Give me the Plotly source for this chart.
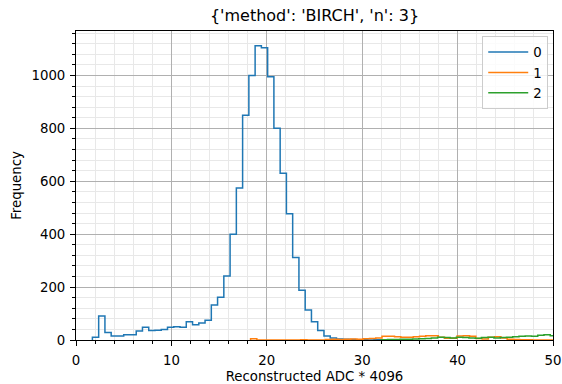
import plotly.graph_objects as go

# ---- data ----
series_names = ["0", "1", "2"]
series_colors = ["#1f77b4", "#ff7f0e", "#2ca02c"]

bin_width = 0.656
blue_start = 1.72
blue_counts = [10, 91, 28, 15, 15, 20, 20, 34, 48, 36, 37, 40, 48, 50, 48, 69, 58, 64, 75,
               132, 162, 242, 400, 575, 850, 1000, 1112, 1105, 995, 800, 630, 477, 312, 188,
               113, 69, 36, 15, 8, 4, 3, 2, 1, 1, 0, 1, 0, 0]

orange_start = 18.3
orange_counts = [5, 0, 0, 0, 0, 0, 0, 0, 1, 0, 0, 0, 2, 3, 2, 3, 4, 3, 5, 6, 8, 14, 14, 12,
                 10, 10, 12, 14, 16, 16, 10, 7, 7, 15, 16, 14, 6, 4, 10, 12, 8, 3, 2, 1, 1, 0,
                 0, 0, 0, 0, 0, 0]

green_start = 32.0
green_counts = [1, 2, 2, 3, 3, 4, 5, 6, 8, 10, 9, 8, 10, 9, 8, 7, 9, 10, 8, 9, 10, 12, 14, 15,
                14, 18, 20, 16, 10, 8]

x_ticks = [0, 10, 20, 30, 40, 50]
y_ticks = [0, 200, 400, 600, 800, 1000]

title_text = "{'method': 'BIRCH', 'n': 3}"
x_label = "Reconstructed ADC * 4096"
y_label = "Frequency"

FONT = "DejaVu Sans"


def step_xy(start, counts):
    edges = [start + bin_width * i for i in range(len(counts) + 1)]
    xs = [edges[0]] + edges[:-1] + [edges[-1]]
    ys = [0] + list(counts) + [0]
    return xs, ys


fig = go.Figure()
for name, color, start, counts in zip(
        series_names, series_colors,
        [blue_start, orange_start, green_start],
        [blue_counts, orange_counts, green_counts]):
    xs, ys = step_xy(start, counts)
    fig.add_trace(go.Scatter(
        x=xs, y=ys, mode="lines", name=name,
        line=dict(color=color, width=1.5, shape="hv"),
    ))

axis_common = dict(
    showline=True, linecolor="black", linewidth=1, mirror=True,
    ticks="outside", ticklen=5, tickwidth=1, tickcolor="black",
    showgrid=True, gridcolor="#b0b0b0", gridwidth=1,
    zeroline=False, automargin=False,
    tickfont=dict(family=FONT, size=13.3, color="black"),
    layer="above traces",
)

fig.update_layout(
    width=562, height=384,
    margin=dict(l=76, r=9, t=31, b=44, autoexpand=False),
    paper_bgcolor="white", plot_bgcolor="white",
    font=dict(family=FONT, size=13.3, color="black"),
    title=dict(text=title_text, x=0.5, xref="paper", xanchor="center",
               y=1, yref="paper", yanchor="bottom", pad=dict(b=10),
               font=dict(family=FONT, size=16, color="black")),
    showlegend=True,
    legend=dict(x=0.99, xanchor="right", y=0.984, yanchor="top",
                bgcolor="rgba(255,255,255,0.8)", bordercolor="#cccccc", borderwidth=1,
                font=dict(family=FONT, size=13.3, color="black"),
                itemwidth=40, tracegroupgap=0),
)

fig.update_xaxes(
    range=[0, 50], tickvals=x_ticks, ticktext=[str(v) for v in x_ticks],
    ticklabelstandoff=3,
    title=dict(text=x_label, standoff=4, font=dict(family=FONT, size=13.3, color="black")),
    minor=dict(dtick=2, tick0=0, ticks="outside", ticklen=3, tickcolor="black",
               showgrid=True, gridcolor="#e8e8e8", gridwidth=1),
    **axis_common,
)
fig.update_yaxes(
    range=[0, 1168], tickvals=y_ticks, ticktext=[str(v) for v in y_ticks],
    ticklabelstandoff=2,
    title=dict(text=y_label, standoff=6, font=dict(family=FONT, size=13.3, color="black")),
    minor=dict(dtick=40, tick0=0, ticks="outside", ticklen=3, tickcolor="black",
               showgrid=True, gridcolor="#e8e8e8", gridwidth=1),
    **axis_common,
)

fig.write_html("out.html", config={"displayModeBar": False},
               post_script="document.body.style.margin='0';")
